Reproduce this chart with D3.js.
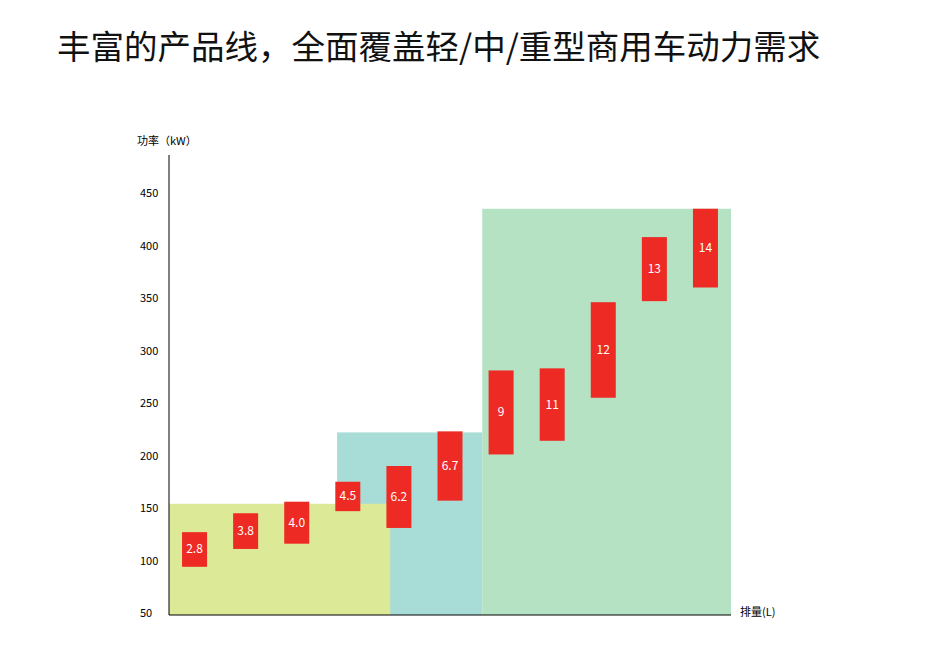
<!DOCTYPE html>
<html><head><meta charset="utf-8">
<script src="https://cdn.jsdelivr.net/npm/d3@7"></script>
<style>body{margin:0;background:#fff;font-family:"Noto Sans CJK SC","Noto Sans",sans-serif;}</style>
</head><body>
<div class="chart"></div>
<script>
// displacement labels and power ranges (kW)
const labels = ["2.8","3.8","4.0","4.5","6.2","6.7","9","11","12","13","14"];
const powerLow = [94, 111, 116, 147, 131, 157, 201, 214, 255, 347, 360];
const powerHigh = [127, 145, 156, 175, 190, 223, 281, 283, 346, 408, 435];
const yTicks = [50, 100, 150, 200, 250, 300, 350, 400, 450];
// segment backgrounds: [start slot, end slot, top power]
const segments = [
  {from: 3.29, to: 6.13, top: 222, color: "#a8dcd6"},
  {from: 0, to: 4.33, top: 154, color: "#dce996"},
  {from: 6.13, to: 11, top: 435, color: "#b6e2c4"}
];

var width = 926, height = 665;
var svg = d3.select(".chart").append("svg").attr("width", width).attr("height", height);

svg.append("text").attr("x", 57).attr("y", 59)
  .style("font-size", "33.5px").style("fill", "#111")
  .text("丰富的产品线，全面覆盖轻/中/重型商用车动力需求");

var x = d3.scaleLinear().domain([0, labels.length]).range([169, 731]);
var y = d3.scaleLinear().domain([50, 450]).range([613, 193]);

// background segments
svg.selectAll(".seg").data(segments).enter().append("rect")
  .attr("x", d => x(d.from)).attr("width", d => x(d.to) - x(d.from))
  .attr("y", d => y(d.top)).attr("height", d => 615 - y(d.top))
  .style("fill", d => d.color);

// bars
var bw = 25;
var bars = svg.selectAll(".bar").data(labels).enter().append("g");
bars.append("rect")
  .attr("x", (d, i) => x(i + 0.5) - bw / 2).attr("width", bw)
  .attr("y", (d, i) => y(powerHigh[i]))
  .attr("height", (d, i) => y(powerLow[i]) - y(powerHigh[i]))
  .style("fill", "#ee2a24");
bars.append("text")
  .attr("x", (d, i) => x(i + 0.5))
  .attr("y", (d, i) => (y(powerLow[i]) + y(powerHigh[i])) / 2 + 4)
  .attr("text-anchor", "middle").style("fill", "#fff").style("font-size", "12px")
  .text(d => d);

// axes lines
svg.append("line").attr("x1", 169).attr("x2", 169).attr("y1", 155).attr("y2", 615).style("stroke", "#000");
svg.append("line").attr("x1", 169).attr("x2", 731).attr("y1", 615).attr("y2", 615).style("stroke", "#000");

svg.selectAll(".yt").data(yTicks).enter().append("text")
  .attr("x", 140).attr("y", d => y(d) + 4)
  .style("font-size", "11px").style("fill", "#000").text(d => d);

svg.append("text").attr("x", 137).attr("y", 145).style("font-size", "11px").text("功率（kW）");
svg.append("text").attr("x", 740).attr("y", 616).style("font-size", "11px").text("排量(L)");
</script>
</body></html>
